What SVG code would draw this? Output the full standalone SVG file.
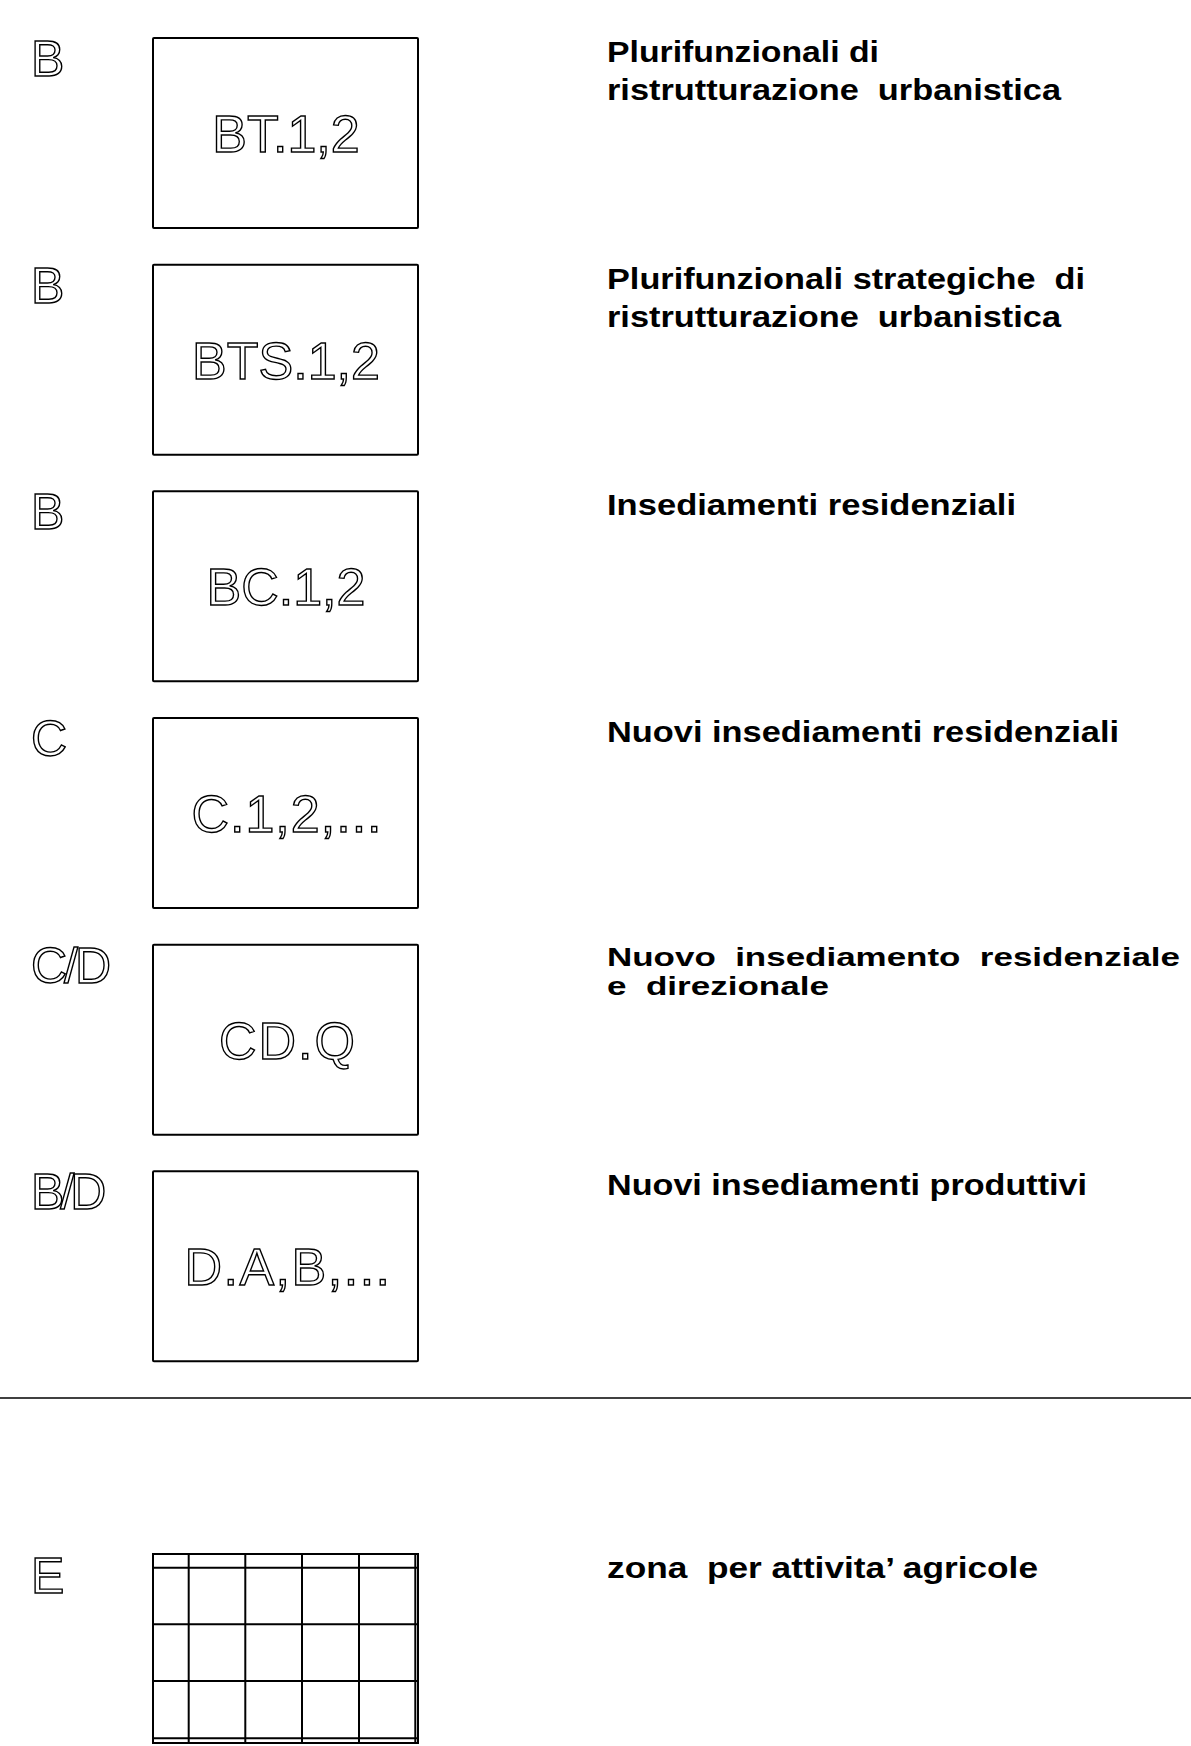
<svg xmlns="http://www.w3.org/2000/svg" width="1191" height="1746" viewBox="0 0 1191 1746">
<style>
.bg{fill:#fff}
.box{fill:none;stroke:#000;stroke-width:2}
.code{font-family:"Liberation Sans",Arial,sans-serif;font-size:52px;fill:#fff;stroke:#000;stroke-width:1.4;text-anchor:middle}
.zone{font-family:"Liberation Sans",Arial,sans-serif;font-size:50px;fill:#fff;stroke:#000;stroke-width:1.4}
.desc{font-family:"Liberation Sans",Arial,sans-serif;font-weight:bold;font-size:30px;fill:#000;white-space:pre}
.desc5{font-family:"Liberation Sans",Arial,sans-serif;font-weight:bold;font-size:26px;fill:#000;white-space:pre}
.grid{fill:none;stroke:#000;stroke-width:2}
.rule{stroke:#000;stroke-width:1.5}
</style>
<rect class="bg" x="0" y="0" width="1191" height="1746"/>

<g id="row-BT">
<text class="zone" x="31" y="76">B</text>
<rect class="box" x="153" y="38" width="265" height="190" rx="1"/>
<text class="code" x="286" y="152">BT.1,2</text>
<text class="desc" x="607" y="62" textLength="272" lengthAdjust="spacingAndGlyphs">Plurifunzionali di</text>
<text class="desc" x="607" y="100" textLength="454" lengthAdjust="spacingAndGlyphs">ristrutturazione  urbanistica</text>
</g>

<g id="row-BTS">
<text class="zone" x="31" y="302.7">B</text>
<rect class="box" x="153" y="264.7" width="265" height="190" rx="1"/>
<text class="code" x="286" y="378.7">BTS.1,2</text>
<text class="desc" x="607" y="288.7" textLength="478" lengthAdjust="spacingAndGlyphs">Plurifunzionali strategiche  di</text>
<text class="desc" x="607" y="326.7" textLength="454" lengthAdjust="spacingAndGlyphs">ristrutturazione  urbanistica</text>
</g>

<g id="row-BC">
<text class="zone" x="31" y="529.3">B</text>
<rect class="box" x="153" y="491.3" width="265" height="190" rx="1"/>
<text class="code" x="286" y="605.3">BC.1,2</text>
<text class="desc" x="607" y="515.3" textLength="409" lengthAdjust="spacingAndGlyphs">Insediamenti residenziali</text>
</g>

<g id="row-C">
<text class="zone" x="31" y="756">C</text>
<rect class="box" x="153" y="718" width="265" height="190" rx="1"/>
<text class="code" x="287" y="832" letter-spacing="1">C.1,2,...</text>
<text class="desc" x="607" y="742" textLength="512" lengthAdjust="spacingAndGlyphs">Nuovi insediamenti residenziali</text>
</g>

<g id="row-CD">
<text class="zone" x="31" y="982.7" letter-spacing="-3">C/D</text>
<rect class="box" x="153" y="944.7" width="265" height="190" rx="1"/>
<text class="code" x="288" y="1058.7" letter-spacing="2">CD.Q</text>
<text class="desc5" x="607" y="966" textLength="573" lengthAdjust="spacingAndGlyphs">Nuovo  insediamento  residenziale</text>
<text class="desc5" x="607" y="995" textLength="222" lengthAdjust="spacingAndGlyphs">e  direzionale</text>
</g>

<g id="row-BD">
<text class="zone" x="31" y="1209.3" letter-spacing="-4">B/D</text>
<rect class="box" x="153" y="1171.3" width="265" height="190" rx="1"/>
<text class="code" x="288" y="1285.3" letter-spacing="1.5">D.A,B,...</text>
<text class="desc" x="607" y="1195.3" textLength="480" lengthAdjust="spacingAndGlyphs">Nuovi insediamenti produttivi</text>
</g>

<line class="rule" x1="0" y1="1398" x2="1191" y2="1398"/>

<g id="row-E">
<text class="zone" x="31" y="1593">E</text>
<g class="grid">
<rect x="153" y="1554" width="265" height="189"/>
<line x1="153" y1="1567.7" x2="418" y2="1567.7"/>
<line x1="153" y1="1624.3" x2="418" y2="1624.3"/>
<line x1="153" y1="1681" x2="418" y2="1681"/>
<line x1="153" y1="1738.3" x2="418" y2="1738.3"/>
<line x1="188.7" y1="1554" x2="188.7" y2="1743"/>
<line x1="245.3" y1="1554" x2="245.3" y2="1743"/>
<line x1="302" y1="1554" x2="302" y2="1743"/>
<line x1="359" y1="1554" x2="359" y2="1743"/>
<line x1="415.3" y1="1554" x2="415.3" y2="1743"/>
</g>
<text class="desc" x="607" y="1578" textLength="431" lengthAdjust="spacingAndGlyphs">zona  per attivita’ agricole</text>
</g>
</svg>
